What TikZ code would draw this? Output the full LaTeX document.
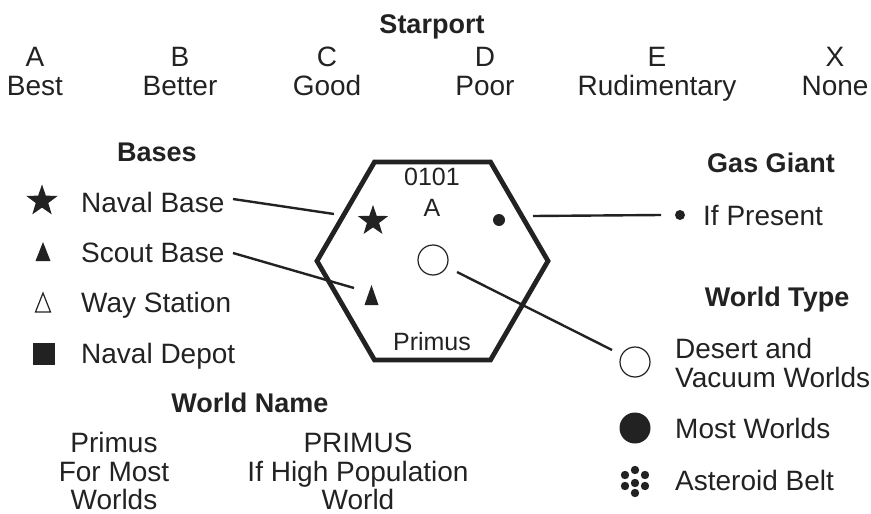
\documentclass[tikz,border=0pt]{standalone}
\usepackage{fontspec}
\setmainfont{Liberation Sans}
\usetikzlibrary{shapes.geometric,calc}
\definecolor{ink}{HTML}{222222}
\tikzset{
  txt/.style={anchor=base, inner sep=0pt, text=ink, font=\fontsize{28}{30}\selectfont},
  txtl/.style={txt, anchor=base west},
  head/.style={txt, font=\fontsize{27}{30}\selectfont\bfseries},
  hextxt/.style={txt, font=\fontsize{25}{28}\selectfont},
  leader/.style={draw=ink, line width=2.4pt},
  starsym/.style={star, star points=5, star point ratio=2.5, fill=ink, inner sep=0pt, minimum size=33pt},
  dotsym/.style={circle, fill=ink, inner sep=0pt, minimum size=#1},
  ringsym/.style={circle, draw=ink, line width=1.2pt, fill=white, inner sep=0pt, minimum size=#1},
}
\begin{document}
\begin{tikzpicture}[x=1pt, y=-1pt]
\useasboundingbox (0,0) rectangle (871,514);

% Starport classes
\node[head] (sp) at (432,34) {Starport};
\foreach \n/\x/\l/\w in {a/35/A/Best, b/180/B/Better, c/327/C/Good, d/485/D/Poor, e/657/E/Rudimentary, x/835/X/None}{
  \node[txt] (cls\n) at (\x,66) {\l};
  \node[txt] (qual\n) at (\x,95) {\w};
}

% Bases legend
\node[head] (bases) at (157,161) {Bases};
\node[starsym] (lgstar) at (42,201) {};
\node[txtl] (naval) at (81,212) {Naval Base};
\path[fill=ink] (35.5,261) -- (43,242) -- (50.5,261) -- cycle;
\coordinate (lgscout) at (43,252);
\node[txtl] (scout) at (81,262) {Scout Base};
\path[draw=ink, line width=1.2pt] (35.5,312) -- (43,293) -- (50.5,312) -- cycle;
\coordinate (lgway) at (43,302);
\node[txtl] (way) at (81,312) {Way Station};
\path[fill=ink] (32.5,343) rectangle (55,365);
\coordinate (lgdepot) at (43.5,354);
\node[txtl] (depot) at (81,363) {Naval Depot};

% The hex
\coordinate (hc) at (432.5,261);
\draw[ink, line width=4.8pt, line join=miter]
  (317,261) -- (374.5,162) -- (490.5,162) -- (548,261) -- (490.5,360) -- (374.5,360) -- cycle;
\node[hextxt] (hexnum) at (432,185) {0101};
\node[hextxt] (hexport) at (432,216) {A};
\node[starsym, minimum size=32pt] (hexstar) at (373,221) {};
\node[dotsym=12pt] (hexgas) at (499,220) {};
\node[ringsym=30pt] (hexworld) at (433,260) {};
\path[fill=ink] (364.5,305) -- (371.5,285) -- (378.5,305) -- cycle;
\coordinate (hexscout) at (371.5,296);
\node[hextxt] (hexname) at (432,350) {Primus};

% Gas giant legend
\node[head] (gas) at (771,172) {Gas Giant};
\node[dotsym=10pt] (lggas) at (680,215) {};
\node[txtl] (present) at (703,225) {If Present};

% World type legend
\node[head] (wtype) at (777,306) {World Type};
\node[ringsym=30pt] (lgdesert) at (635,362) {};
\node[txtl] (desert) at (675,358) {Desert and};
\node[txtl] (vacuum) at (675,387) {Vacuum Worlds};
\node[dotsym=31pt] (lgmost) at (635,428) {};
\node[txtl] (most) at (675,438) {Most Worlds};
\coordinate (lgbelt) at (635,481);
\foreach \dx/\dy in {0/-11, -10/-6, 10/-6, 0/2, -10/5, 10/5, 0/12}
  \fill[ink] ($(lgbelt)+(\dx,\dy)$) circle (4.2);
\node[txtl] (belt) at (675,490) {Asteroid Belt};

% World name legend
\node[head] (wname) at (250,412) {World Name};
\node[txt] (lower) at (114,452) {Primus};
\node[txt] (lower2) at (114,481) {For Most};
\node[txt] (lower3) at (114,509) {Worlds};
\node[txt] (upper) at (358,452) {PRIMUS};
\node[txt] (upper2) at (358,481) {If High Population};
\node[txt] (upper3) at (358,509) {World};

% Leader lines
\coordinate (navalend) at (233,199);
\coordinate (navalhex) at (334,214);
\coordinate (scoutend) at (233,253);
\coordinate (scouthex) at (354,288);
\coordinate (gashex) at (533,216);
\coordinate (gaslg) at (661,215);
\coordinate (worldhex) at (457,272);
\coordinate (worldlg) at (612,350);
\draw[leader] (navalend) -- (navalhex);
\draw[leader] (scoutend) -- (scouthex);
\draw[leader] (gashex) -- (gaslg);
\draw[leader] (worldhex) -- (worldlg);
\end{tikzpicture}
\end{document}
